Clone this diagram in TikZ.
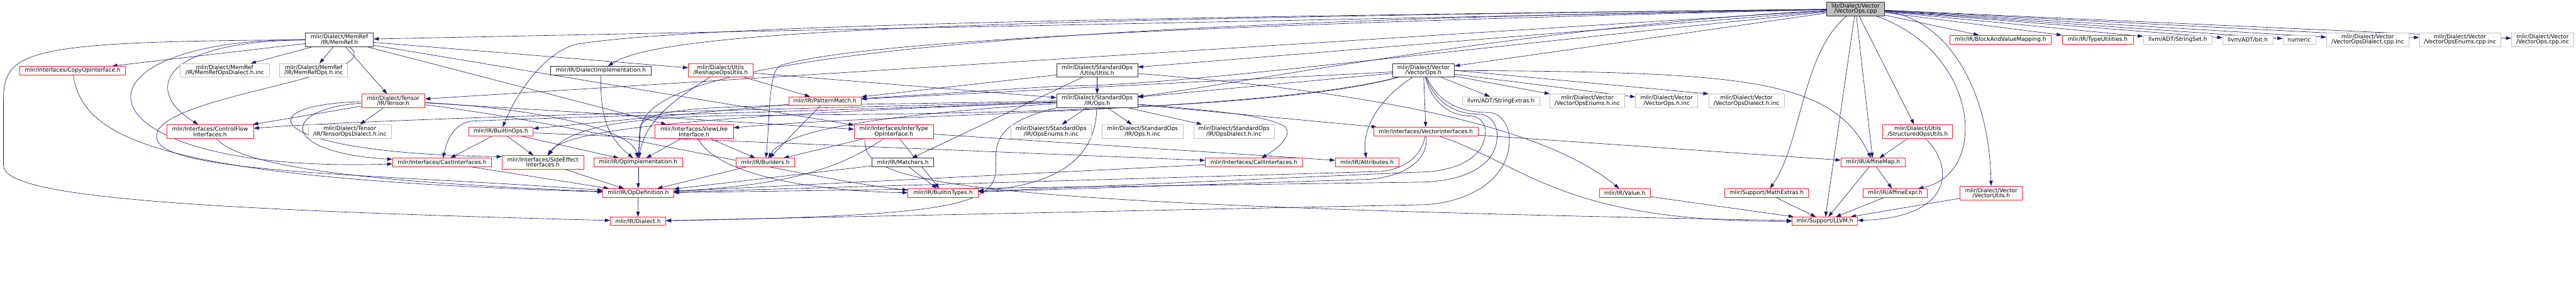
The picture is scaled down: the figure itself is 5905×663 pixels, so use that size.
\documentclass[tikz,border=0pt]{standalone}
\usepackage{fontspec}
\setmainfont{DejaVu Sans}
\usetikzlibrary{arrows.meta,backgrounds}
\definecolor{dred}{HTML}{FF2020}
\definecolor{dgray}{HTML}{C0C0C0}
\definecolor{dblack}{HTML}{303030}
\definecolor{edgec}{HTML}{191970}
\newcommand\nf{\fontsize{12.9}{12.3}\selectfont}
\newcommand\dnode[7]{\node[#1, minimum width=#5pt, minimum height=#6pt] (#2) at (#3,#4) {#7};}
\tikzset{
  basebox/.style={draw, line width=1pt, inner sep=0pt, align=center, font=\nf, fill=white},
  redbox/.style={basebox, draw=dred},
  graybox/.style={basebox, draw=dgray},
  blackbox/.style={basebox, draw=dblack},
  rootbox/.style={basebox, draw=dblack, fill=dgray},
  arr/.style={draw=edgec, line width=0.9pt, -{Triangle[length=12pt,width=8pt]}},
}
\begin{document}
\begin{tikzpicture}[x=1pt,y=-1pt]
\useasboundingbox (0,0) rectangle (5905,663);
\dnode{rootbox}{root}{4253.5}{20.5}{133}{31}{lib/Dialect/Vector\\/VectorOps.cpp}
\dnode{blackbox}{memref}{778}{91}{156}{32}{mlir/Dialect/MemRef\\/IR/MemRef.h}
\dnode{redbox}{copyop}{166.5}{162}{243}{20}{mlir/Interfaces/CopyOpInterface.h}
\dnode{graybox}{memrefdialect}{515}{161.5}{204}{31}{mlir/Dialect/MemRef\\/IR/MemRefOpsDialect.h.inc}
\dnode{graybox}{memrefops}{719}{161.5}{156}{31}{mlir/Dialect/MemRef\\/IR/MemRefOps.h.inc}
\dnode{redbox}{tensor}{901.5}{231.5}{145}{31}{mlir/Dialect/Tensor\\/IR/Tensor.h}
\dnode{graybox}{tensordialect}{802}{302}{190}{32}{mlir/Dialect/Tensor\\/IR/TensorOpsDialect.h.inc}
\dnode{redbox}{controlflow}{481.5}{302}{199}{32}{mlir/Interfaces/ControlFlow\\Interfaces.h}
\dnode{redbox}{cast}{1013.5}{372.5}{227}{19}{mlir/Interfaces/CastInterfaces.h}
\dnode{blackbox}{dialectimpl}{1377.5}{162}{231}{20}{mlir/IR/DialectImplementation.h}
\dnode{redbox}{builtinops}{1148}{302}{148}{20}{mlir/IR/BuiltinOps.h}
\dnode{redbox}{sideeffect}{1244.5}{372.5}{187}{31}{mlir/Interfaces/SideEffect\\Interfaces.h}
\dnode{redbox}{opimpl}{1463}{372.5}{202}{19}{mlir/IR/OpImplementation.h}
\dnode{redbox}{opdef}{1463}{443}{162}{20}{mlir/IR/OpDefinition.h}
\dnode{redbox}{dialect}{1462.5}{507.5}{127}{19}{mlir/IR/Dialect.h}
\dnode{redbox}{reshape}{1652}{161.5}{148}{31}{mlir/Dialect/Utils\\/ReshapeOpsUtils.h}
\dnode{redbox}{patternmatch}{1891}{231.5}{166}{19}{mlir/IR/PatternMatch.h}
\dnode{redbox}{viewlike}{1591}{302}{180}{32}{mlir/Interfaces/ViewLike\\Interface.h}
\dnode{redbox}{builders}{1754.5}{372.5}{135}{19}{mlir/IR/Builders.h}
\dnode{redbox}{infertype}{2049}{302}{182}{32}{mlir/Interfaces/InferType\\OpInterface.h}
\dnode{blackbox}{matchers}{2069.5}{372.5}{141}{19}{mlir/IR/Matchers.h}
\dnode{redbox}{builtintypes}{2161.5}{443}{161}{20}{mlir/IR/BuiltinTypes.h}
\dnode{graybox}{opsenums}{2409.5}{302}{185}{32}{mlir/Dialect/StandardOps\\/IR/OpsEnums.h.inc}
\dnode{blackbox}{stdutils}{2515}{161.5}{186}{31}{mlir/Dialect/StandardOps\\/Utils/Utils.h}
\dnode{blackbox}{stdops}{2515}{231.5}{186}{31}{mlir/Dialect/StandardOps\\/IR/Ops.h}
\dnode{graybox}{opsinc}{2619}{302}{186}{32}{mlir/Dialect/StandardOps\\/IR/Ops.h.inc}
\dnode{graybox}{opsdialectinc}{2828.5}{302}{185}{32}{mlir/Dialect/StandardOps\\/IR/OpsDialect.h.inc}
\dnode{redbox}{callif}{2874.5}{372.5}{223}{19}{mlir/Interfaces/CallInterfaces.h}
\dnode{blackbox}{vectorops}{3263}{161.5}{142}{31}{mlir/Dialect/Vector\\/VectorOps.h}
\dnode{graybox}{stringextras}{3440.5}{231.5}{177}{19}{llvm/ADT/StringExtras.h}
\dnode{redbox}{vectorif}{3268.5}{302}{239}{20}{mlir/Interfaces/VectorInterfaces.h}
\dnode{redbox}{attributes}{3133.5}{372.5}{145}{19}{mlir/IR/Attributes.h}
\dnode{graybox}{vecenumsinc}{3638.5}{231.5}{171}{31}{mlir/Dialect/Vector\\/VectorOpsEnums.h.inc}
\dnode{graybox}{vecopsinc}{3820.5}{231.5}{143}{31}{mlir/Dialect/Vector\\/VectorOps.h.inc}
\dnode{graybox}{vecdialectinc}{4003.5}{231.5}{173}{31}{mlir/Dialect/Vector\\/VectorOpsDialect.h.inc}
\dnode{redbox}{value}{3724.5}{443}{117}{20}{mlir/IR/Value.h}
\dnode{redbox}{structured}{4396}{302}{160}{32}{mlir/Dialect/Utils\\/StructuredOpsUtils.h}
\dnode{redbox}{affinemap}{4293.5}{372.5}{147}{19}{mlir/IR/AffineMap.h}
\dnode{redbox}{mathextras}{4049.5}{443}{191}{20}{mlir/Support/MathExtras.h}
\dnode{redbox}{affineexpr}{4344.5}{443}{147}{20}{mlir/IR/AffineExpr.h}
\dnode{redbox}{llvm}{4183}{507.5}{150}{19}{mlir/Support/LLVM.h}
\dnode{redbox}{blockvalue}{4585.5}{91}{233}{20}{mlir/IR/BlockAndValueMapping.h}
\dnode{redbox}{typeutil}{4808.5}{91}{163}{20}{mlir/IR/TypeUtilities.h}
\dnode{redbox}{vectorutils}{4564.5}{443}{143}{32}{mlir/Dialect/Vector\\/VectorUtils.h}
\dnode{graybox}{stringset}{4992}{91}{158}{20}{llvm/ADT/StringSet.h}
\dnode{graybox}{bit}{5152.5}{91}{115}{20}{llvm/ADT/bit.h}
\dnode{graybox}{numeric}{5270.5}{91}{75}{20}{numeric}
\dnode{graybox}{vecdialectcpp}{5427.5}{91}{189}{32}{mlir/Dialect/Vector\\/VectorOpsDialect.cpp.inc}
\dnode{graybox}{vecenumscpp}{5639}{91}{186}{32}{mlir/Dialect/Vector\\/VectorOpsEnums.cpp.inc}
\dnode{graybox}{vecopscpp}{5828.5}{91}{143}{32}{mlir/Dialect/Vector\\/VectorOps.cpp.inc}

\begin{scope}[on background layer]
% root
\draw[arr] (root) -- (vectorops);
\draw[arr] (root) -- (memref);
\draw[arr] (root) -- (stdutils);
\draw[arr] (root) .. controls (3500,60) and (2800,200) .. (stdops);
\draw[arr] (root) -- (tensor);
\draw[arr] (root) .. controls (2200,45) and (1520,70) .. (dialectimpl);
\draw[arr] (root) .. controls (2500,40) and (1600,60) .. (1330,100) .. controls (1260,110) and (1190,200) .. (builtinops);
\draw[arr] (root) .. controls (2100,55) and (1470,150) .. (1468,300) -- (opimpl);
\draw[arr] (root) .. controls (3000,150) and (2700,195) .. (2422,198) -- (patternmatch);
\draw[arr] (root) .. controls (2600,60) and (1950,100) .. (1790,150) .. controls (1760,160) and (1765,280) .. (builders);
\draw[arr] (root) .. controls (4130,120) and (4130,330) .. (mathextras);
\draw[arr] (root) -- (llvm);
\draw[arr] (root) -- (affinemap);
\draw[arr] (root) -- (structured);
\draw[arr] (root) .. controls (4460,40) and (4560,200) .. (vectorutils);
\draw[arr] (root) .. controls (4540,120) and (4560,400) .. (affineexpr);
\draw[arr] (root) -- (blockvalue);
\draw[arr] (root) -- (typeutil);
\draw[arr] (root) -- (stringset);
\draw[arr] (root) -- (bit);
\draw[arr] (root) -- (numeric);
\draw[arr] (root) -- (vecdialectcpp);
\draw[arr] (root) -- (vecenumscpp);
\draw[arr] (root) -- (vecopscpp);
% vector ops header
\draw[arr] (vectorops) -- (stdops);
\draw[arr] (vectorops) -- (stringextras);
\draw[arr] (vectorops) -- (vecenumsinc);
\draw[arr] (vectorops) -- (vecopsinc);
\draw[arr] (vectorops.east) -- (vecdialectinc.north west);
\draw[arr] (vectorops) .. controls (4000,165) and (4200,180) .. (affinemap);
\draw[arr] (vectorops) -- (vectorif);
\draw[arr] (vectorops) .. controls (3170,220) and (3120,290) .. (attributes);
\draw[arr] (vectorops) -- (patternmatch);
\draw[arr] (vectorops) .. controls (2900,262) and (2000,262) .. (1700,265) .. controls (1400,268) and (1300,300) .. (sideeffect);
\draw[arr] (vectorops) .. controls (2900,258) and (2000,262) .. (viewlike);
\draw[arr] (vectorops) to[out=-75,in=180] (3370,266) to[out=0,in=90] (3405,300) to[out=-90,in=0] (3250,395) -- (builtintypes);
\draw[arr] (vectorops) to[out=-70,in=180] (3390,262) to[out=0,in=90] (3432,310) to[out=-90,in=0] (3250,418) -- (opdef);
\draw[arr] (vectorops) to[out=-65,in=180] (3410,258) to[out=0,in=90] (3460,320) to[out=-90,in=0] (3250,470) -- (dialect);
% memref
\draw[arr] (memref) -- (tensor);
\draw[arr] (memref) -- (memrefdialect);
\draw[arr] (memref) -- (memrefops);
\draw[arr] (memref) -- (copyop);
\draw[arr] (memref) .. controls (360,95) and (330,210) .. (controlflow);
\draw[arr] (memref) .. controls (120,90) and (160,400) .. (cast);
\draw[arr] (memref) -- (viewlike);
\draw[arr] (memref) -- (reshape);
\draw[arr] (memref) -- (infertype);
\draw[arr] (memref) .. controls (60,95) and (8,115) .. (8,230) -- (8,380) .. controls (8,450) and (400,480) .. (dialect);
\draw[arr] (memref) .. controls (900,180) and (330,220) .. (360,320) .. controls (380,400) and (900,400) .. (opdef);
% tensor
\draw[arr] (tensor) -- (tensordialect);
\draw[arr] (tensor) -- (controlflow);
\draw[arr] (tensor) .. controls (640,250) and (640,350) .. (cast);
\draw[arr] (tensor) .. controls (560,240) and (600,352) .. ([yshift=-3pt]sideeffect.north west);
\draw[arr] (tensor) -- (infertype);
\draw[arr] (tensor) .. controls (1250,250) and (1450,300) .. (opimpl);
\draw[arr] (tensor) .. controls (1300,280) and (1900,420) .. (builtintypes);
% standard ops
\draw[arr] (stdops) -- (opsenums);
\draw[arr] (stdops) -- (opsinc);
\draw[arr] (stdops) -- (opsdialectinc);
\draw[arr] (stdops) .. controls (1800,250) and (900,270) .. (controlflow);
\draw[arr] (stdops) .. controls (1800,258) and (1300,268) .. (1080,278) .. controls (1040,285) and (1025,320) .. (cast);
\draw[arr] (stdops) .. controls (1700,262) and (1300,290) .. (sideeffect);
\draw[arr] (stdops.west) .. controls (1700,248) and (1466,230) .. (1466,300) -- (opimpl);
\draw[arr] (stdops) .. controls (2000,265) and (1800,300) .. (builders);
\draw[arr] (stdops) .. controls (2512,300) and (2500,420) .. (builtintypes);
\draw[arr] (stdops.south west) .. controls (2290,280) and (2280,320) .. (2283,380) .. controls (2286,470) and (2200,495) .. (dialect);
\draw[arr] (stdops) .. controls (2800,255) and (2900,265) .. (2945,290) .. controls (2965,310) and (2930,340) .. (callif);
\draw[arr] (stdops) -- (vectorif);
% standard utils
\draw[arr] (stdutils) -- (stdops);
\draw[arr] (stdutils) -- (matchers);
\draw[arr] (stdutils) -- (patternmatch);
\draw[arr] (stdutils) .. controls (3200,215) and (3550,300) .. (value);
% reshape
\draw[arr] (reshape) -- (patternmatch);
\draw[arr] (reshape) .. controls (1560,220) and (1480,270) .. (opimpl);
\draw[arr] (reshape) -- (stdops);
% others
\draw[arr] (dialectimpl) .. controls (1375,280) and (1400,320) .. (opimpl);
\draw[arr] (builtinops) -- (cast);
\draw[arr] (builtinops) -- (sideeffect);
\draw[arr] (builtinops) -- (opimpl);
\draw[arr] (builtinops) -- (callif);
\draw[arr] (viewlike) -- (opimpl);
\draw[arr] (viewlike) -- (builders);
\draw[arr] (viewlike) .. controls (1650,410) and (1900,440) .. (builtintypes);
\draw[arr] (patternmatch) -- (builders);
\draw[arr] (patternmatch) -- (builtinops);
\draw[arr] (infertype) -- (builtintypes);
\draw[arr] (infertype) -- (builders);
\draw[arr] (infertype) -- (attributes);
\draw[arr] (infertype) .. controls (1920,390) and (1800,425) .. (opdef);
\draw[arr] ([xshift=25pt]infertype.south west) .. controls (1975,420) and (2150,470) .. (llvm);
\draw[arr] (matchers) -- (builtintypes);
\draw[arr] (matchers) -- (opdef);
\draw[arr] (builders) -- (opdef);
\draw[arr] (opimpl) -- (opdef);
\draw[arr] (opdef) -- (dialect);
\draw[arr] (cast) -- (opdef);
\draw[arr] (sideeffect) -- (opdef);
\draw[arr] (controlflow) .. controls (560,390) and (900,420) .. (opdef);
\draw[arr] (copyop) .. controls (190,330) and (400,410) .. (opdef);
\draw[arr] (callif) -- (opdef);
\draw[arr] (vectorif) to[out=-100,in=0] (3150,394) -- (opdef);
\draw[arr] (vectorif) to[out=-85,in=0] (3120,412) -- (builtintypes);
\draw[arr] (vectorif) -- (affinemap);
\draw[arr] (vectorif) .. controls (3500,380) and (3580,510) .. (llvm);
\draw[arr] (structured) -- (affinemap);
\draw[arr] (structured) .. controls (4480,380) and (4480,500) .. (llvm);
\draw[arr] (vectorutils) -- (llvm);
\draw[arr] (value) -- (llvm);
\draw[arr] (affinemap) -- (llvm);
\draw[arr] (affinemap) -- (affineexpr);
\draw[arr] (affineexpr) -- (llvm);
\draw[arr] (mathextras) -- (llvm);
\end{scope}
\end{tikzpicture}
\end{document}
